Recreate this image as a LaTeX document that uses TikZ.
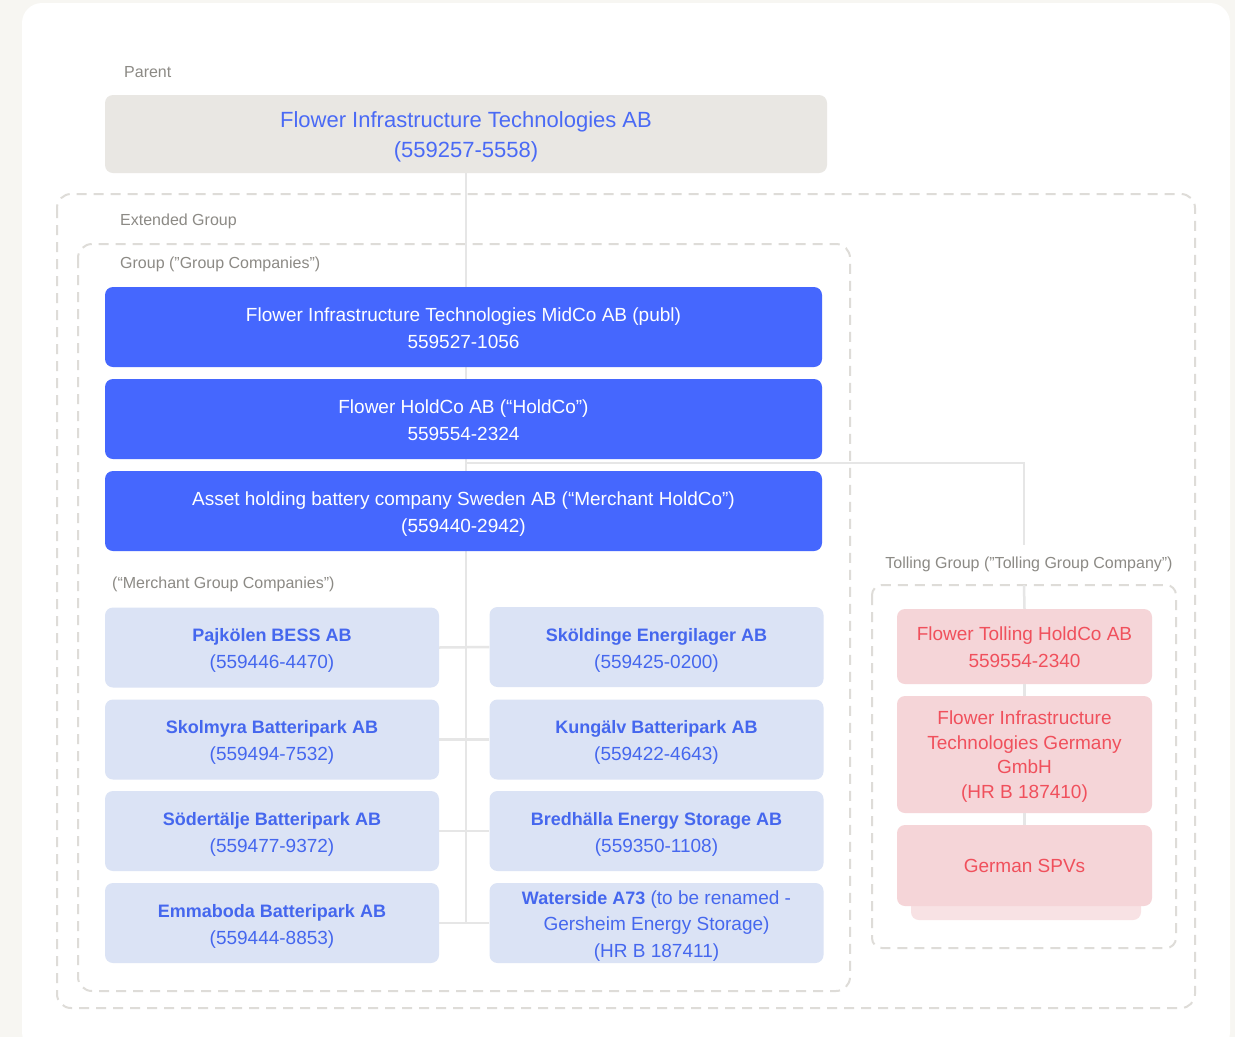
\documentclass[tikz,border=0pt]{standalone}
\usepackage{fontspec}
\setmainfont{Liberation Sans}
\usetikzlibrary{positioning,calc}
\definecolor{bgcol}{HTML}{F7F6F2}
\definecolor{dashcol}{HTML}{DEDCD8}
\definecolor{labcol}{HTML}{8C8A85}
\definecolor{parfill}{HTML}{E9E7E3}
\definecolor{partext}{HTML}{4A6AF5}
\definecolor{mainblue}{HTML}{4567FE}
\definecolor{lightblue}{HTML}{DBE3F5}
\definecolor{bluetext}{HTML}{4567EE}
\definecolor{pinkfill}{HTML}{F5D5D8}
\definecolor{pinkshadow}{HTML}{F8E2E4}
\definecolor{redtext}{HTML}{F0505C}
\definecolor{linecol}{HTML}{E6E6E6}
\newcommand\boxlines[2][2.5pt]{\raisebox{-#1}[\height][\depth]{\begin{tabular}{@{}c@{}}#2\end{tabular}}}
\newcommand\nm[1]{{\fontsize{18}{27}\selectfont\bfseries #1}}
\tikzset{
  grouplabel/.style={anchor=west,inner sep=0pt,text=labcol,font=\fontsize{16}{19}\selectfont},
  dashbox/.style={draw=dashcol,line width=2pt,dash pattern=on 10pt off 7pt,rounded corners=14pt},
  conn/.style={draw=linecol,line width=2.5pt},
  parentbox/.style={rectangle,rounded corners=8pt,fill=parfill,text=partext,inner sep=0pt,minimum width=722pt,minimum height=78pt,font=\fontsize{22}{30}\selectfont},
  bluebox/.style={rectangle,rounded corners=8pt,fill=mainblue,text=white,inner sep=0pt,minimum width=717pt,minimum height=80pt,font=\fontsize{19}{27}\selectfont},
  mbox/.style={rectangle,rounded corners=8pt,fill=lightblue,text=bluetext,inner sep=0pt,minimum width=334pt,minimum height=80pt,font=\fontsize{19}{27}\selectfont},
  tbox/.style={rectangle,rounded corners=8pt,fill=pinkfill,text=redtext,inner sep=0pt,minimum width=255pt,font=\fontsize{19}{24.6}\selectfont},
}
\begin{document}
\begin{tikzpicture}[x=1pt,y=-1pt]
\useasboundingbox (0,0) rectangle (1235,1037);
\begin{scope}
\clip (0,0) rectangle (1235,1037);
\fill[bgcol] (0,0) rectangle (1235,1037);
\fill[white,rounded corners=20pt] (22,3) rectangle (1230,1052);
\end{scope}
% dashed group frames
\draw[dashbox] (57,194) rectangle (1195,1008);
\draw[dashbox] (78,244) rectangle (850,991);
\draw[dashbox,rounded corners=10pt] (872,585) rectangle (1176,948);
\coordinate (tframetop) at (1024,585);
% labels
\node[grouplabel] (lparent) at (124,72) {Parent};
\node[grouplabel] (lext) at (120,221) {Extended Group};
\node[grouplabel] (lgroup) at (120,264) {Group ("Group Companies”)};
\node[grouplabel] (lmerch) at (112,584) {(“Merchant Group Companies”)};
\node[grouplabel,anchor=center,inner sep=0pt,minimum height=38pt] (ltoll) at (1029,564) {Tolling Group ("Tolling Group Company”)};
% coordinates for connectors
\coordinate (trunkend) at (466,922);
\coordinate (hcbranch) at (466,463);
% parent and trunk
\node[parentbox] (parent) at (466,134) {\boxlines[2.5pt]{Flower Infrastructure Technologies AB\\(559257-5558)}};
\draw[conn] (parent.south) -- (trunkend);
\draw[conn] (hcbranch) -| (ltoll.north -| tframetop);
% blue boxes
\node[bluebox] (midco) at (463.5,327) {\boxlines[2.5pt]{Flower Infrastructure Technologies MidCo AB (publ)\\559527-1056}};
\node[bluebox] (holdco) at (463.5,419) {\boxlines[2.5pt]{Flower HoldCo AB (“HoldCo”)\\559554-2324}};
\node[bluebox] (mholdco) at (463.5,511) {\boxlines[2.5pt]{Asset holding battery company Sweden AB (“Merchant HoldCo”)\\(559440-2942)}};
% merchant companies
\node[mbox] (m1) at (272,647.5) {\boxlines[2.5pt]{\nm{Pajkölen BESS AB}\\(559446-4470)}};
\node[mbox] (m2) at (656.5,647) {\boxlines[2.5pt]{\nm{Sköldinge Energilager AB}\\(559425-0200)}};
\node[mbox] (m3) at (272,739.5) {\boxlines[2.5pt]{\nm{Skolmyra Batteripark AB}\\(559494-7532)}};
\node[mbox] (m4) at (656.5,739.5) {\boxlines[2.5pt]{\nm{Kungälv Batteripark AB}\\(559422-4643)}};
\node[mbox] (m5) at (272,831) {\boxlines[2.5pt]{\nm{Södertälje Batteripark AB}\\(559477-9372)}};
\node[mbox] (m6) at (656.5,831) {\boxlines[2.5pt]{\nm{Bredhälla Energy Storage AB}\\(559350-1108)}};
\node[mbox] (m7) at (272,923) {\boxlines[2.5pt]{\nm{Emmaboda Batteripark AB}\\(559444-8853)}};
\node[mbox,font=\fontsize{19}{26.5}\selectfont] (m8) at (656.5,923) {\boxlines[2.5pt]{\nm{Waterside A73} (to be renamed -\\Gersheim Energy Storage)\\(HR B 187411)}};
\draw[conn] (m1.east) -- (m2.west);
\draw[conn] (m3.east) -- (m4.west);
\draw[conn] (m5.east) -- (m6.west);
\draw[conn] (m7.east) -- (m8.west);
% tolling group
\fill[pinkshadow,rounded corners=8pt] (911,850) rectangle (1141,920);
\node[tbox,minimum height=75pt,font=\fontsize{19}{27}\selectfont] (t1) at (1024.5,646.5) {\boxlines[2pt]{Flower Tolling HoldCo AB\\559554-2340}};
\node[tbox,minimum height=117pt] (t2) at (1024.5,754.5) {\boxlines[2pt]{Flower Infrastructure\\Technologies Germany\\GmbH\\(HR B 187410)}};
\node[tbox,minimum height=81pt] (t3) at (1024.5,865.5) {\boxlines[2pt]{German SPVs}};
\draw[conn] (tframetop) -- (t1.north);
\draw[conn] (t1.south) -- (t2.north);
\draw[conn] (t2.south) -- (t3.north);
\end{tikzpicture}
\end{document}
